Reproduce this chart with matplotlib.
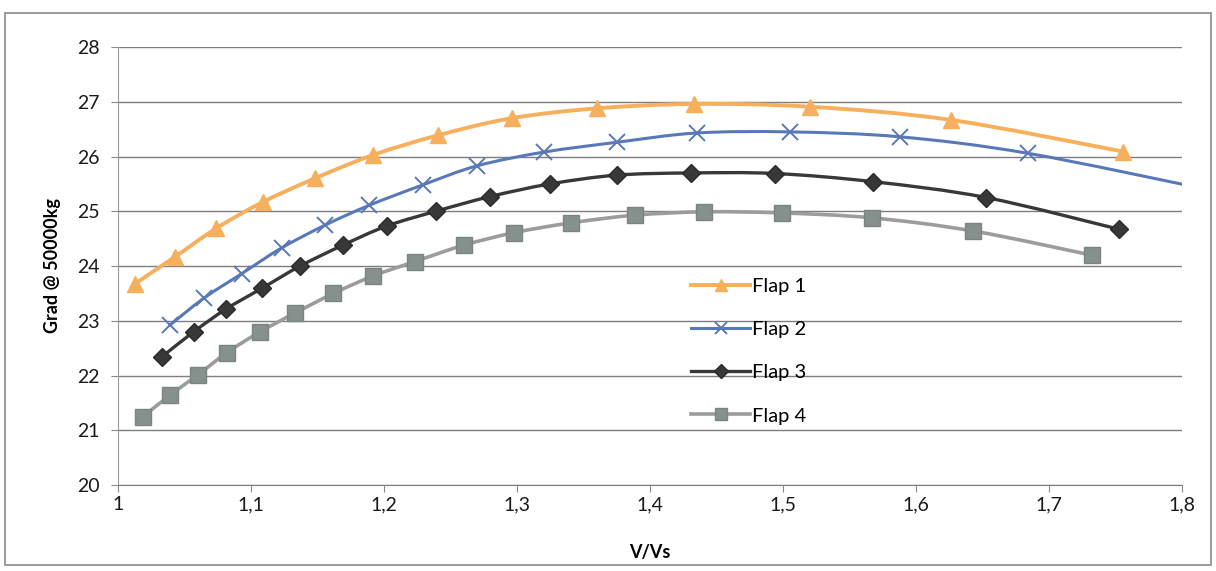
import numpy as np
import matplotlib
matplotlib.use("Agg")
import matplotlib.pyplot as plt
from matplotlib.path import Path
from matplotlib.patches import PathPatch, Rectangle

plt.rcParams['font.family'] = ['Lato', 'DejaVu Sans']

# values
flap1_v = [1.013, 1.043, 1.074, 1.109, 1.148, 1.192, 1.241, 1.296, 1.360, 1.433, 1.520, 1.626, 1.756]
flap1_g = [23.68, 24.17, 24.69, 25.17, 25.60, 26.03, 26.39, 26.70, 26.88, 26.96, 26.91, 26.67, 26.09]

flap2_v = [1.039, 1.065, 1.093, 1.123, 1.156, 1.189, 1.229, 1.270, 1.320, 1.375, 1.435, 1.505, 1.588, 1.684, 1.815]
flap2_g = [22.92, 23.42, 23.86, 24.33, 24.75, 25.11, 25.48, 25.83, 26.08, 26.26, 26.43, 26.45, 26.36, 26.06, 25.42]

flap3_v = [1.033, 1.057, 1.081, 1.108, 1.137, 1.169, 1.202, 1.239, 1.280, 1.325, 1.375, 1.431, 1.494, 1.568, 1.653, 1.753]
flap3_g = [22.34, 22.80, 23.21, 23.59, 24.00, 24.38, 24.73, 25.00, 25.27, 25.50, 25.66, 25.70, 25.69, 25.54, 25.25, 24.67]

flap4_v = [1.019, 1.039, 1.060, 1.082, 1.107, 1.133, 1.162, 1.192, 1.223, 1.260, 1.298, 1.341, 1.389, 1.441, 1.499, 1.567, 1.643, 1.732]
flap4_g = [21.25, 21.64, 22.01, 22.42, 22.80, 23.14, 23.50, 23.82, 24.08, 24.38, 24.61, 24.79, 24.93, 24.99, 24.97, 24.88, 24.64, 24.20]

labels = ['Flap 1', 'Flap 2', 'Flap 3', 'Flap 4']
x_ticks = [1.0, 1.1, 1.2, 1.3, 1.4, 1.5, 1.6, 1.7, 1.8]
x_tick_labels = ['1', '1,1', '1,2', '1,3', '1,4', '1,5', '1,6', '1,7', '1,8']
y_ticks = [20, 21, 22, 23, 24, 25, 26, 27, 28]


def smooth_path(xs, ys):
    # excel-like smoothed line: cubic bezier segments with catmull-rom handles
    p = np.column_stack([xs, ys]).astype(float)
    ext = np.vstack([p[0], p, p[-1]])
    verts = [p[0]]
    codes = [Path.MOVETO]
    for i in range(len(p) - 1):
        p0, p1, p2, p3 = ext[i], ext[i + 1], ext[i + 2], ext[i + 3]
        verts += [p1 + (p2 - p0) / 6.0, p2 - (p3 - p1) / 6.0, p2]
        codes += [Path.CURVE4] * 3
    return Path(verts, codes)


fig = plt.figure(figsize=(12.16, 5.71), dpi=100)
ax = fig.add_axes([0.097, 0.1506, 0.875, 0.767])

series = [
    (flap1_v, flap1_g, '#F6AF5C', 2.8, dict(marker='^', ms=12, mfc='#F6AF5C', mec='#F6AF5C')),
    (flap2_v, flap2_g, '#5878B8', 2.2, dict(marker='x', ms=12, mew=1.4, mec='#5878B8')),
    (flap3_v, flap3_g, '#383838', 2.4, dict(marker='D', ms=9, mfc='#383838', mec='#2a2a2a')),
    (flap4_v, flap4_g, '#9C9C9C', 2.6, dict(marker='s', ms=12, mfc='#86918D', mec='#7a8581')),
]

for (xs, ys, col, lw, mk), lab in zip(series, labels):
    patch = PathPatch(smooth_path(xs, ys), facecolor='none', edgecolor=col, lw=lw,
                      capstyle='round', joinstyle='round', zorder=3)
    ax.add_patch(patch)
    ax.plot(xs, ys, ls='none', zorder=4, **mk)
    # proxy for the legend
    ax.plot([], [], color=col, lw=lw, label=lab, **{k: (v * 0.75 if k == 'ms' else v) for k, v in mk.items()})

ax.set_xlim(1.0, 1.8)
ax.set_ylim(20, 28)
ax.set_xticks(x_ticks)
ax.set_xticklabels(x_tick_labels)
ax.set_yticks(y_ticks)
ax.grid(axis='y', color='#7d7d7d', lw=1.0)
ax.set_axisbelow(True)

for s in ['top', 'right']:
    ax.spines[s].set_visible(False)
ax.spines['left'].set_color('#9a9a9a')
ax.spines['bottom'].set_color('#7d7d7d')
ax.tick_params(axis='both', direction='out', length=5, color='#8a8a8a',
               labelsize=14, labelcolor='#1a1a1a')
ax.tick_params(axis='x', pad=3)
ax.tick_params(axis='y', pad=8)

ax.set_xlabel('V/Vs', fontsize=13, fontweight='bold', labelpad=22)
ax.set_ylabel('Grad @ 50000kg', fontsize=13, fontweight='bold', labelpad=12)

ax.legend(loc='upper left', bbox_to_anchor=(0.522, 0.515), frameon=False,
          fontsize=14.5, handlelength=2.9, handletextpad=0.1, labelspacing=1.3)

# outer chart frame
fig.patches.append(Rectangle((0.004, 0.01), 0.992, 0.968, transform=fig.transFigure,
                             fill=False, edgecolor='#8a8a8a', lw=1.2))

fig.savefig('out.png', dpi=100)
